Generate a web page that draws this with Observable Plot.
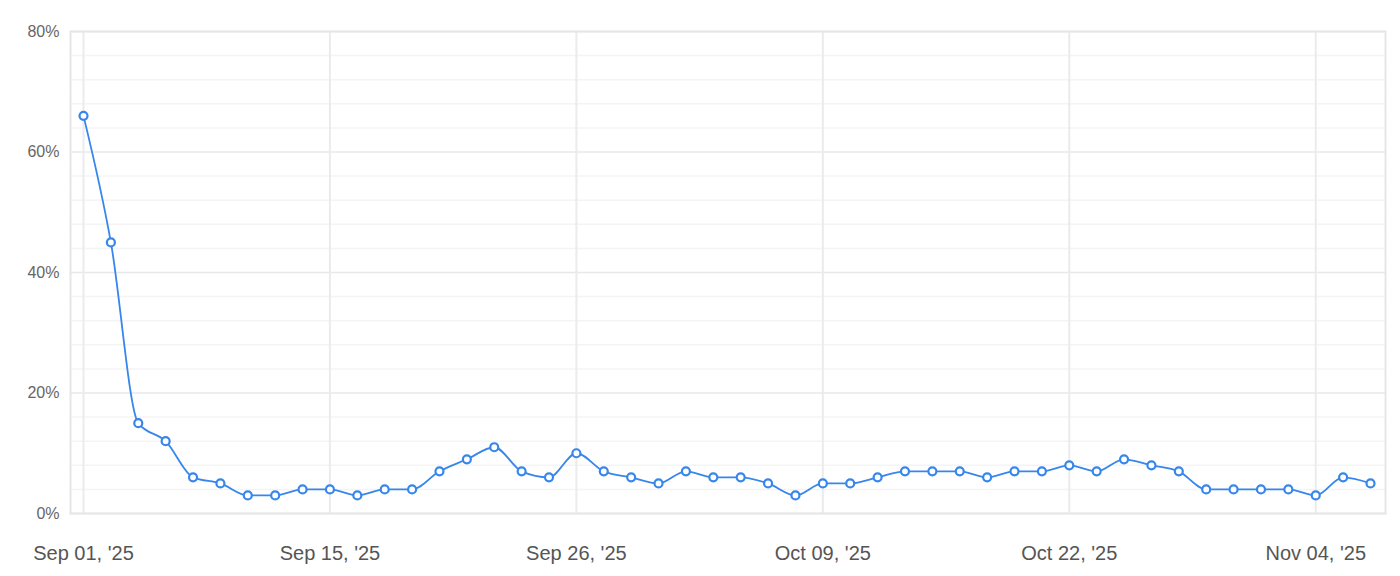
<!DOCTYPE html>
<html>
<head>
<meta charset="utf-8">
<script src="https://cdn.jsdelivr.net/npm/d3@7"></script>
<script src="https://cdn.jsdelivr.net/npm/@observablehq/plot@0.6"></script>
<style>
  html, body { margin: 0; padding: 0; background: #fff; }
  #chart { width: 1400px; height: 576px; }
</style>
</head>
<body>
<div id="chart"></div>
<script>
// Percent values, one per observation (48 points)
const values = [66, 45, 15, 12, 6, 5, 3, 3, 4, 4,
                3, 4, 4, 7, 9, 11, 7, 6, 10, 7,
                6, 5, 7, 6, 6, 5, 3, 5, 5, 6,
                7, 7, 7, 6, 7, 7, 8, 7, 9, 8,
                7, 4, 4, 4, 4, 3, 6, 5];
// Positions (observation index) of the labelled x ticks and their labels
const tickIndex = [0, 9, 18, 27, 36, 45];
const tickLabels = ["Sep 01, '25", "Sep 15, '25", "Sep 26, '25", "Oct 09, '25", "Oct 22, '25", "Nov 04, '25"];
const yMajor = [0, 20, 40, 60, 80];
const yMinor = [4, 8, 12, 16, 24, 28, 32, 36, 44, 48, 52, 56, 64, 68, 72, 76];

const data = values.map((v, i) => ({i, v}));
const lineColor = "#3786ec";

const chart = Plot.plot({
  width: 1400,
  height: 576,
  marginLeft: 70,
  marginRight: 15,
  marginTop: 31,
  marginBottom: 63,
  style: {fontFamily: "'Liberation Sans', Arial, sans-serif", background: "#fff"},
  x: {domain: [0, values.length - 1], insetLeft: 13, insetRight: 15, axis: null, label: null},
  y: {domain: [0, 80], axis: null, label: null},
  marks: [
    Plot.ruleY(yMinor, {stroke: "#f4f4f4", strokeWidth: 1.5}),
    Plot.ruleY(yMajor, {stroke: "#e8e8e8", strokeWidth: 1.5}),
    Plot.ruleX(tickIndex, {stroke: "#ebebeb", strokeWidth: 2}),
    Plot.frame({stroke: "#e6e6e6", strokeWidth: 2}),
    Plot.line(data, {x: "i", y: "v", curve: "monotone-x", stroke: lineColor, strokeWidth: 1.8}),
    Plot.dot(data, {x: "i", y: "v", r: 4, fill: "white", stroke: lineColor, strokeWidth: 2.2}),
    Plot.axisX(tickIndex, {
      tickSize: 0, tickPadding: 32, fontSize: 20, fill: "#555", label: null,
      tickFormat: d => tickLabels[tickIndex.indexOf(d)]
    }),
    Plot.axisY(yMajor, {
      tickSize: 0, tickPadding: 11, fontSize: 16, fill: "#666", label: null,
      tickFormat: d => d + "%"
    })
  ]
});
document.getElementById("chart").appendChild(chart);
</script>
</body>
</html>
